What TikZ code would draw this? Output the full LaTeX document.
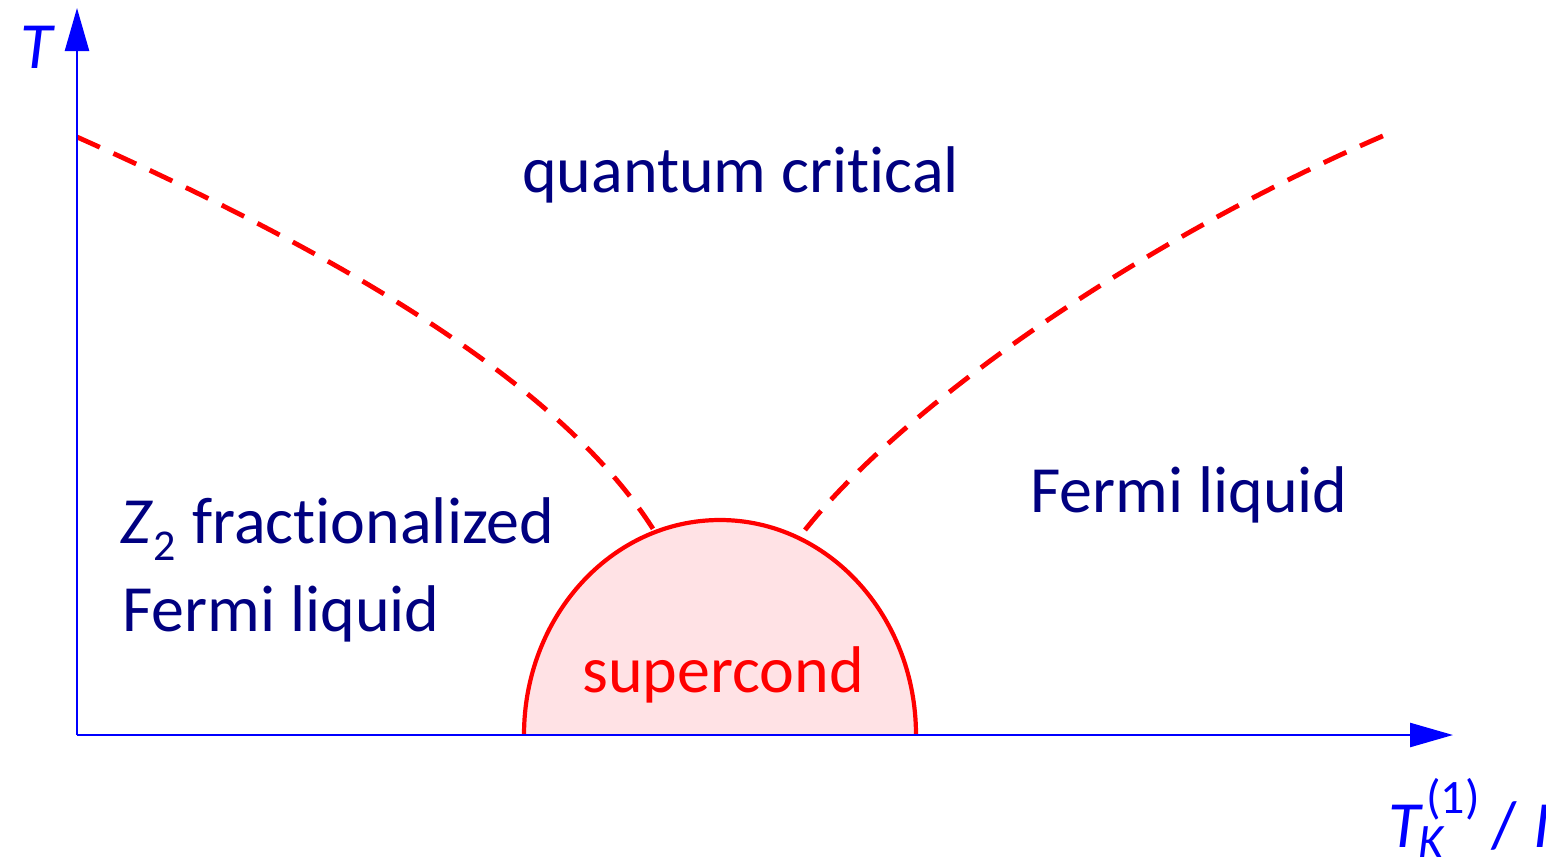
\documentclass[tikz,border=0pt]{standalone}
\usepackage{fontspec}
\setmainfont[Ligatures={NoCommon}]{Carlito}
\usetikzlibrary{arrows.meta}
\definecolor{axisblue}{RGB}{0,0,255}
\definecolor{labelnavy}{RGB}{0,0,128}
\definecolor{scred}{RGB}{255,0,0}
\definecolor{scfill}{RGB}{255,226,229}
\begin{document}
\begin{tikzpicture}[x=1pt,y=-1pt,
  axisline/.style={draw=axisblue, line width=2.5pt, -{Triangle[length=43pt,width=24pt]}},
  crossover/.style={draw=scred, line width=4.8pt, dash pattern=on 25pt off 15pt},
  region/.style={text=labelnavy, font=\fontsize{66}{70}\selectfont, inner sep=0pt, anchor=base west},
  axlabel/.style={text=axisblue, font=\fontsize{66}{70}\selectfont\itshape, inner sep=0pt, anchor=base west}]
\useasboundingbox (0,0) rectangle (1546,862);
% coordinates
\coordinate (O) at (77,735);
\coordinate (ytip) at (77,8);
\coordinate (xtip) at (1453,735);
\coordinate (domeL) at (524,735);
\coordinate (lstart) at (77,137);
\coordinate (lend) at (655,532);
\coordinate (rstart) at (805,530);
\coordinate (rend) at (1385,135);
% superconducting dome
\fill[scfill] (domeL) arc[start angle=180, end angle=360, x radius=196, y radius=215] -- cycle;
\draw[scred, line width=4.2pt] (domeL) arc[start angle=180, end angle=360, x radius=196, y radius=215];
% crossover lines
\draw[crossover] (lstart) .. controls (330,250) and (560,380) .. (lend);
\draw[crossover] (rstart) .. controls (900,410) and (1130,245) .. (rend);
% axes
\draw[axisline] (O) -- (ytip);
\draw[axisline] (O) -- (xtip);
% labels
\node[axlabel] (tlab) at (20,68) {T};
\node[axlabel] (xlab) at (1388,847) {T\kern-2pt\rlap{\raisebox{-10pt}{\fontsize{48}{48}\selectfont\itshape K}}\kern8pt\raisebox{34pt}{\fontsize{48}{48}\selectfont\upshape (1)}\kern12pt\upshape/\kern16pt\itshape I};
\node[region] (qc) at (522,192) {quantum critical};
\node[region] (flr) at (1030,512) {Fermi liquid};
\node[region] (z2) at (120,543) {\textit{Z}\raisebox{-17pt}{\fontsize{44}{44}\selectfont 2}\kern2pt\ fractionalized};
\node[region] (fll) at (122,631) {Fermi liquid};
\node[region, text=scred] (sc) at (582,692) {supercond};
\end{tikzpicture}
\end{document}
